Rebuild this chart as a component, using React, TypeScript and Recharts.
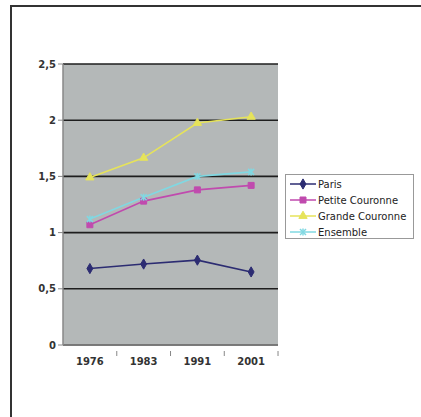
import React from "react"
import { LineChart, Line, XAxis, YAxis, CartesianGrid, Symbols } from "recharts"

const years = ["1976", "1983", "1991", "2001"]
const paris = [0.68, 0.72, 0.755, 0.65]
const petiteCouronne = [1.07, 1.28, 1.38, 1.42]
const grandeCouronne = [1.49, 1.665, 1.975, 2.03]
const ensemble = [1.12, 1.315, 1.5, 1.54]
const yTicks = [0, 0.5, 1, 1.5, 2, 2.5]

const data = years.map((year, i) => ({
  year,
  paris: paris[i],
  petite: petiteCouronne[i],
  grande: grandeCouronne[i],
  ensemble: ensemble[i],
}))

const FONT = "'DejaVu Sans', Verdana, sans-serif"
const HALF_BAND = 26.9

const series = [
  { key: "paris", name: "Paris", color: "#2c2c72", shape: "diamond" },
  { key: "petite", name: "Petite Couronne", color: "#c04aae", shape: "square" },
  { key: "grande", name: "Grande Couronne", color: "#e6e35a", shape: "triangle" },
  { key: "ensemble", name: "Ensemble", color: "#80d8e2", shape: "cross" },
]

function Marker({ cx, cy, color, shape }: any) {
  if (cx == null || cy == null) return null
  if (shape === "cross") {
    return (
      <g stroke={color} strokeWidth={1.5}>
        <line x1={cx - 3} y1={cy - 3} x2={cx + 3} y2={cy + 3} />
        <line x1={cx - 3} y1={cy + 3} x2={cx + 3} y2={cy - 3} />
        <line x1={cx} y1={cy - 3.5} x2={cx} y2={cy + 3.5} />
      </g>
    )
  }
  const size = shape === "square" ? 36 : 30
  return <Symbols cx={cx} cy={cy} type={shape} size={size} fill={color} stroke={color} />
}

// category label centred under the point, tick mark on the band boundary
function YearTick({ x, y, payload }: any) {
  return (
    <g>
      <line x1={x + HALF_BAND} y1={y - 2} x2={x + HALF_BAND} y2={y + 3} stroke="#888" />
      <text x={x} y={y + 12} textAnchor="middle" fontSize={10} fontWeight="bold" fontFamily={FONT} fill="#333">
        {payload.value}
      </text>
    </g>
  )
}

function LegendBox() {
  return (
    <div
      style={{
        position: "absolute",
        left: 285,
        top: 174,
        width: 129,
        height: 65,
        border: "1px solid #999",
        background: "#fff",
        boxSizing: "border-box",
        paddingTop: 1,
      }}
    >
      {series.map((s) => (
        <div key={s.key} style={{ display: "flex", alignItems: "center", height: 16 }}>
          <svg width={32} height={16} style={{ flexShrink: 0 }}>
            <line x1={4} y1={8} x2={30} y2={8} stroke={s.color} strokeWidth={1.5} />
            <Marker cx={17} cy={8} color={s.color} shape={s.shape} />
          </svg>
          <span style={{ fontFamily: FONT, fontSize: 10, color: "#222", whiteSpace: "nowrap" }}>{s.name}</span>
        </div>
      ))}
    </div>
  )
}

export default function App() {
  return (
    <div style={{ position: "absolute", left: 0, top: 0, width: 421, height: 417, overflow: "hidden", background: "#fff" }}>
      <div
        style={{
          position: "absolute",
          left: 10,
          top: 5,
          width: 440,
          height: 440,
          borderTop: "2px solid #333",
          borderLeft: "2px solid #333",
        }}
      />
      <LineChart width={421} height={417} data={data} margin={{ top: 64, right: 143, left: 23, bottom: 42 }}>
        <CartesianGrid vertical={false} fill="#b4b8b8" stroke="#1e1e1e" strokeWidth={1.6} />
        <XAxis
          dataKey="year"
          scale="band"
          axisLine={{ stroke: "#888", strokeWidth: 1.5 }}
          tickLine={false}
          tick={<YearTick />}
          interval={0}
        />
        <YAxis
          width={40}
          domain={[0, 2.5]}
          ticks={yTicks}
          axisLine={{ stroke: "#888", strokeWidth: 1.5 }}
          tickLine={{ stroke: "#888" }}
          tickSize={5}
          tickFormatter={(v: number) => String(v).replace(".", ",")}
          tick={{ fontSize: 10, fontWeight: "bold", fontFamily: FONT, fill: "#333" }}
        />
        <YAxis
          yAxisId="right"
          orientation="right"
          width={0}
          domain={[0, 2.5]}
          tick={false}
          tickLine={false}
          axisLine={{ stroke: "#888", strokeWidth: 2 }}
        />
        {series.map((s) => (
          <Line
            key={s.key}
            dataKey={s.key}
            name={s.name}
            stroke={s.color}
            strokeWidth={1.6}
            type="linear"
            dot={(p: any) => <Marker key={`${s.key}-${p.index}`} cx={p.cx} cy={p.cy} color={s.color} shape={s.shape} />}
            activeDot={false}
            isAnimationActive={false}
          />
        ))}
      </LineChart>
      <LegendBox />
    </div>
  )
}
